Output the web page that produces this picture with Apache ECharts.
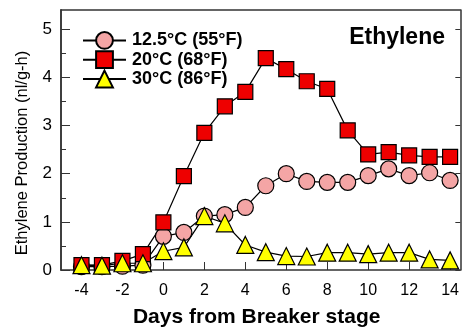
<!DOCTYPE html>
<html><head><meta charset="utf-8">
<script src="https://cdn.jsdelivr.net/npm/echarts@6/dist/echarts.min.js"></script>
<style>html,body{margin:0;padding:0;background:#fff}#c{width:462px;height:333px}</style>
</head><body><div id="c"></div>
<script>
const days = [-4,-3,-2,-1,0,1,2,3,4,5,6,7,8,9,10,11,12,13,14];
const seriesNames = ['12.5°C (55°F)','20°C (68°F)','30°C (86°F)'];
const t12 = [0.07,0.07,0.08,0.1,0.7,0.78,1.12,1.15,1.3,1.75,2.0,1.84,1.82,1.82,1.96,2.1,1.96,2.02,1.86];
const t20 = [0.1,0.1,0.19,0.33,0.99,1.95,2.85,3.4,3.7,4.4,4.17,3.92,3.76,2.9,2.4,2.45,2.38,2.35,2.35];
const t30 = [0.1,0.09,0.14,0.14,0.39,0.47,1.12,0.97,0.52,0.37,0.29,0.28,0.36,0.36,0.33,0.36,0.36,0.22,0.2];
const xTicks = [-4,-2,0,2,4,6,8,10,12,14];
const yTicks = [0,1,2,3,4,5];
const yMinor = [0.5,1.5,2.5,3.5,4.5];
const title = 'Ethylene';
const xName = 'Days from Breaker stage';
const yName = 'Ethylene Production (nl/g-h)';

const F = 'Liberation Sans, Arial, sans-serif';
const AX = '#333';
const chart = echarts.init(document.getElementById('c'));
function mk(name, vals, symbol, size, color){
  return {name, type:'line', data: days.map((d,i)=>[d,vals[i]]), symbol, symbolSize:size,
    showAllSymbol:true, lineStyle:{color:'#000',width:1.2},
    itemStyle:{color, borderColor:'#000', borderWidth:1.2}, emphasis:{disabled:true}, animation:false};
}
function yAx(pos, ticks, len, labels, extra){
  return Object.assign({type:'value',position:pos,min:0,max:5.4,
    axisLine:{show:true,onZero:false,lineStyle:{color:AX,width:1.5}},
    axisTick:{show:true,inside:true,length:len,customValues:ticks,lineStyle:{color:AX}},
    axisLabel:labels?{customValues:yTicks,margin:9,fontFamily:F,fontSize:17,color:'#000'}:{show:false},
    splitLine:{show:false}}, extra||{});
}
chart.setOption({
  animation:false,
  grid:{left:61,right:1,top:10,bottom:61,containLabel:false},
  title:{text:title,right:12,top:21,textStyle:{fontFamily:F,fontWeight:'bold',fontSize:23,color:'#000'}},
  legend:{orient:'vertical',left:77,top:26,itemWidth:43,itemHeight:21,itemGap:0.5,
    textStyle:{fontFamily:F,fontWeight:'bold',fontSize:18,color:'#000',padding:[0,0,0,1]},
    data:seriesNames},
  xAxis:[{type:'value',min:-5,max:14.5,
    axisLine:{onZero:false,lineStyle:{color:AX,width:1.5}},
    axisTick:{inside:true,length:8,customValues:xTicks,lineStyle:{color:AX}},
    axisLabel:{customValues:xTicks,margin:13,fontFamily:F,fontSize:16,color:'#000'},
    splitLine:{show:false},
    name:xName,nameLocation:'middle',nameGap:37,
    nameTextStyle:{fontFamily:F,fontWeight:'bold',fontSize:21,color:'#000',padding:[0,8,0,0]}},
   {type:'value',position:'top',min:-5,max:14.5,axisLine:{show:true,onZero:false,lineStyle:{color:AX,width:1.5}},
    axisTick:{show:false},axisLabel:{show:false},splitLine:{show:false}}],
  yAxis:[
    yAx('left', yTicks, 9, true, {name:yName,nameLocation:'middle',nameGap:30,
      nameTextStyle:{fontFamily:F,fontSize:16.5,color:'#000',padding:[0,26,0,0]}}),
    yAx('left', yMinor, 5, false),
    yAx('right', yTicks, 5, false)
  ],
  series:[
    mk(seriesNames[0],t12,'circle',16,'#f4a5a5'),
    mk(seriesNames[1],t20,'rect',15,'#ee0000'),
    mk(seriesNames[2],t30,'triangle',17,'#ffff00')
  ]
});
</script></body></html>
